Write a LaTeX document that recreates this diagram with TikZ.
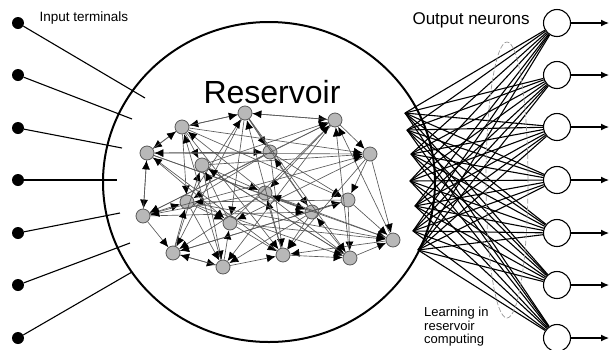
\documentclass[tikz,border=0pt]{standalone}
\usepackage{fontspec}
\setmainfont{Liberation Sans}
\usetikzlibrary{arrows.meta}
\begin{document}
\begin{tikzpicture}[x=1pt,y=-1pt,
    terminal/.style={circle,fill=black,inner sep=0pt,minimum size=12pt},
    neuron/.style={circle,draw=black!65,fill=black!28,line width=0.8pt,inner sep=0pt,minimum size=14pt},
    output/.style={circle,draw=black,fill=white,line width=1.1pt,inner sep=0pt,minimum size=27pt},
    link/.style={draw=black!65,line width=0.65pt,-{Latex[black,length=9pt,width=8pt]}},
    wire/.style={line width=1.1pt}]

  \useasboundingbox (0,0) rectangle (611,349);

  % reservoir boundary and title
  \draw[line width=2pt] (269,182) ellipse [x radius=166pt, y radius=160pt];
  \node (title) at (272,92) {\fontsize{32}{34}\selectfont Reservoir};

  % input terminals
  \node[anchor=west] (inlabel) at (36,18) {\fontsize{13.5}{16}\selectfont Input terminals};
  \foreach \i/\y/\px/\py in {1/23/145/98, 2/75/132/119, 3/128/122/148, 4/180/117/180,
      5/233/120/213, 6/285/130/243, 7/338/132/272} {
    \node[terminal] (in\i) at (18,\y) {};
    \coordinate (ip\i) at (\px,\py);
    \draw[line width=1.1pt] (in\i) -- (ip\i);
  }

  % reservoir neurons
  \node[neuron] (r1) at (182,127) {};
  \node[neuron] (r2) at (245,113) {};
  \node[neuron] (r3) at (335,120) {};
  \node[neuron] (r4) at (147,153) {};
  \node[neuron] (r5) at (202,165) {};
  \node[neuron] (r6) at (270,152) {};
  \node[neuron] (r7) at (370,154) {};
  \node[neuron] (r8) at (143,216) {};
  \node[neuron] (r9) at (187,202) {};
  \node[neuron] (r10) at (230,223) {};
  \node[neuron] (r11) at (265,193) {};
  \node[neuron] (r12) at (312,212) {};
  \node[neuron] (r13) at (348,200) {};
  \node[neuron] (r14) at (393,240) {};
  \node[neuron] (r15) at (173,253) {};
  \node[neuron] (r16) at (223,267) {};
  \node[neuron] (r17) at (283,255) {};
  \node[neuron] (r18) at (350,258) {};

  \foreach \a/\b in {1/4, 1/5, 1/9, 1/13, 1/17, 1/7, 2/1, 2/6, 2/10, 2/15, 2/12, 2/3,
      3/2, 3/7, 3/11, 3/16, 3/8, 4/8, 4/6, 4/12, 4/14, 5/11, 5/16, 5/3, 5/18,
      6/9, 6/13, 6/17, 6/8, 7/13, 7/14, 7/10, 7/4, 8/9, 8/15, 8/12, 8/7,
      9/10, 9/16, 9/2, 9/18, 10/17, 10/5, 10/14, 11/12, 11/15, 11/1, 11/18,
      12/13, 12/16, 12/6, 13/18, 13/14, 13/9, 14/17, 14/3, 14/11, 15/16, 15/5,
      15/13, 16/17, 16/10, 16/1, 17/18, 17/11, 17/2, 18/14, 18/12, 18/3,
      1/2, 4/1, 8/4, 15/9, 16/15, 12/17, 6/3, 4/10, 5/7, 9/14, 10/3, 11/8,
      13/15, 17/4, 18/5, 7/17, 2/18}
    \draw[link] (r\a) -- (r\b);

  % output neurons
  \node[anchor=west] (outlabel) at (409,20) {\fontsize{17}{20}\selectfont Output neurons};
  \foreach \j/\y in {1/23, 2/75, 3/127, 4/180, 5/233, 6/285, 7/338} {
    \node[output] (out\j) at (557,\y) {};
    \coordinate (end\j) at (609,\y);
    \draw[line width=1.2pt,-{Latex[length=8pt,width=7pt]}] (out\j) -- (end\j);
  }

  % readout
  \foreach \i/\px/\py in {1/405/113, 2/407/130, 3/411/154, 4/410/181,
      5/415/206, 6/413/231, 7/418/250}
    \coordinate (ro\i) at (\px,\py);
  \foreach \i in {1,...,7}
    \foreach \j in {1,...,7}
      \draw[wire] (ro\i) -- (out\j);

  \draw[black!40,dash pattern=on 5pt off 2pt,line width=0.7pt] (507,180) ellipse [x radius=21pt, y radius=138pt];
  \node[anchor=west,align=left,inner sep=0pt,font=\fontsize{13}{13.5}\selectfont] (learn) at (424,327)
    {Learning in\\reservoir\\computing};
\end{tikzpicture}
\end{document}
